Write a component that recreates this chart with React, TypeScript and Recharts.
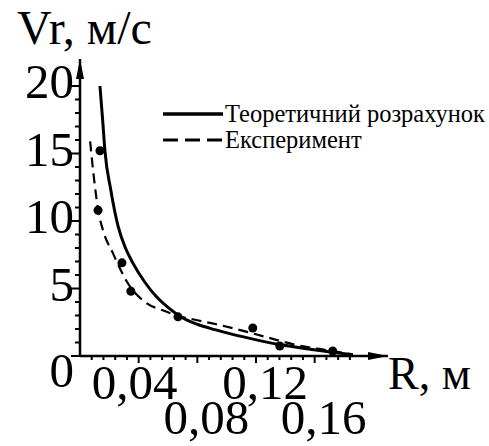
import React from 'react';
import { ComposedChart, Line, Scatter, XAxis, YAxis, Legend } from 'recharts';

// теоретичний розрахунок (R, м -> Vr, м/с)
const theoryR = [0.0136, 0.0155, 0.017, 0.021, 0.026, 0.031, 0.036, 0.044, 0.052, 0.06, 0.068, 0.08, 0.092, 0.104, 0.118, 0.136, 0.157, 0.172, 0.186];
const theoryV = [20, 17.4, 15.2, 12.3, 9.6, 8.0, 6.9, 5.5, 4.4, 3.6, 2.95, 2.35, 1.95, 1.6, 1.25, 0.85, 0.5, 0.28, 0.1];

// апроксимація експерименту (штрихова)
const fitR = [0.0069, 0.0095, 0.0124, 0.0157, 0.0225, 0.032, 0.0456, 0.056, 0.066, 0.08, 0.093, 0.11, 0.127, 0.15, 0.168, 0.186];
const fitV = [15.9, 13.2, 10.8, 9.3, 7.6, 5.5, 3.9, 3.4, 3.0, 2.65, 2.35, 1.9, 1.4, 0.75, 0.44, 0.12];

// експериментальні точки
const expR = [0.0123, 0.0136, 0.0286, 0.0347, 0.0668, 0.1178, 0.1362, 0.1723];
const expV = [10.8, 15.2, 6.9, 4.8, 2.9, 2.07, 0.74, 0.37];

const xTicks = [0.008, 0.016, 0.024, 0.032, 0.04, 0.048, 0.056, 0.064, 0.072, 0.08, 0.088, 0.096, 0.104, 0.112, 0.12, 0.128, 0.136, 0.144, 0.152, 0.16, 0.168, 0.176, 0.184];
const xMajor = [0.04, 0.08, 0.12, 0.16];
const yTicks = [0, 1, 2, 3, 4, 5, 6, 7, 8, 9, 10, 11, 12, 13, 14, 15, 16, 17, 18, 19, 20];
const yMajor = [0, 5, 10, 15, 20];

const seriesNames = ['Теоретичний розрахунок', 'Експеримент'];

const theory = theoryR.map((r, i) => ({ r, v: theoryV[i] }));
const fit = fitR.map((r, i) => ({ r, v: fitV[i] }));
const points = expR.map((r, i) => ({ r, v: expV[i] }));

const FONT = 'Liberation Serif, Times New Roman, Times, DejaVu Serif, serif';

const isMajorX = (v: number) => xMajor.some((m) => Math.abs(m - v) < 1e-6);

const XTick = ({ x, y, payload }: any) => {
  const v = payload.value as number;
  const major = isMajorX(v);
  const idx = xMajor.findIndex((m) => Math.abs(m - v) < 1e-6);
  const lower = idx % 2 === 1;
  return (
    <g>
      <line x1={x} x2={x} y1={y} y2={y + (major ? 7 : 4)} stroke="#000" strokeWidth={2} />
      {major && (
        <text
          x={x + (idx === 0 ? -4 : 9)}
          y={y + (lower ? 78 : 43)}
          textAnchor="middle"
          style={{ fontFamily: FONT, fontSize: 49 }}
          fill="#000"
        >
          {v.toFixed(2).replace('.', ',')}
        </text>
      )}
    </g>
  );
};

const YTick = ({ x, y, payload }: any) => {
  const v = payload.value as number;
  const major = yMajor.includes(v);
  return (
    <g>
      <line x1={x - (major ? 9 : 5)} x2={x} y1={y} y2={y} stroke="#000" strokeWidth={2} />
      {major && (
        <text x={x - 6} y={v === 0 ? y + 31 : y + 12} textAnchor="end" style={{ fontFamily: FONT, fontSize: 49 }} fill="#000">
          {v}
        </text>
      )}
    </g>
  );
};

const LegendBox = () => (
  <div style={{ fontFamily: FONT, fontSize: 24.5, color: '#000', lineHeight: '26px' }}>
    {seriesNames.map((name, i) => (
      <div key={name} style={{ display: 'flex', alignItems: 'center', whiteSpace: 'nowrap' }}>
        <svg width={62} height={10} style={{ marginRight: 1 }}>
          <line
            x1={1}
            x2={61}
            y1={5}
            y2={5}
            stroke="#000"
            strokeWidth={i === 0 ? 3.5 : 3}
            strokeDasharray={i === 0 ? undefined : '15 7'}
          />
        </svg>
        <span>{name}</span>
      </div>
    ))}
  </div>
);

export default function App() {
  return (
    <div style={{ position: 'absolute', left: 0, top: 0, width: 489, height: 446, background: '#fff', fontFamily: FONT }}>
      <ComposedChart width={489} height={446} margin={{ top: 59, right: 101, bottom: 0, left: 0 }}>
        <defs>
          <marker
            id="arrowHead"
            viewBox="0 0 20 8"
            refX={20}
            refY={4}
            markerWidth={20}
            markerHeight={8}
            markerUnits="userSpaceOnUse"
            orient="auto-start-reverse"
          >
            <path d="M0,0 L20,4 L0,8 z" fill="#000" />
          </marker>
        </defs>
        <XAxis
          dataKey="r"
          type="number"
          domain={[0, 0.21]}
          ticks={xTicks}
          interval={0}
          height={90}
          tickSize={0}
          tickMargin={0}
          tickLine={false}
          tick={<XTick />}
          axisLine={{ stroke: '#000', strokeWidth: 2.5, markerEnd: 'url(#arrowHead)' }}
          allowDataOverflow
        />
        <YAxis
          type="number"
          domain={[0, 22]}
          ticks={yTicks}
          interval={0}
          width={80}
          tickSize={0}
          tickMargin={0}
          tickLine={false}
          tick={<YTick />}
          axisLine={{ stroke: '#000', strokeWidth: 2.5, markerStart: 'url(#arrowHead)' }}
          allowDataOverflow
        />
        <Legend
          layout="vertical"
          align="center"
          verticalAlign="middle"
          wrapperStyle={{ top: 101, left: 162, width: 'auto' }}
          content={<LegendBox />}
        />
        <Line
          data={theory}
          dataKey="v"
          type="monotone"
          stroke="#000"
          strokeWidth={3}
          dot={false}
          activeDot={false}
          isAnimationActive={false}
          name={seriesNames[0]}
        />
        <Line
          data={fit}
          dataKey="v"
          type="monotone"
          stroke="#000"
          strokeWidth={2.2}
          strokeDasharray="10 6"
          dot={false}
          activeDot={false}
          isAnimationActive={false}
          name={seriesNames[1]}
        />
        <Scatter
          data={points}
          dataKey="v"
          fill="#000"
          isAnimationActive={false}
          shape={(p: any) => <circle cx={p.cx} cy={p.cy} r={4.5} fill="#000" />}
          legendType="none"
        />
      </ComposedChart>
      <div style={{ position: 'absolute', left: 17, top: 2, fontFamily: FONT, fontSize: 48, lineHeight: '52px', whiteSpace: 'nowrap' }}>
        Vr, м/с
      </div>
      <div style={{ position: 'absolute', left: 388, top: 349, fontFamily: FONT, fontSize: 46, lineHeight: '50px', whiteSpace: 'nowrap' }}>
        R, м
      </div>
    </div>
  );
}
